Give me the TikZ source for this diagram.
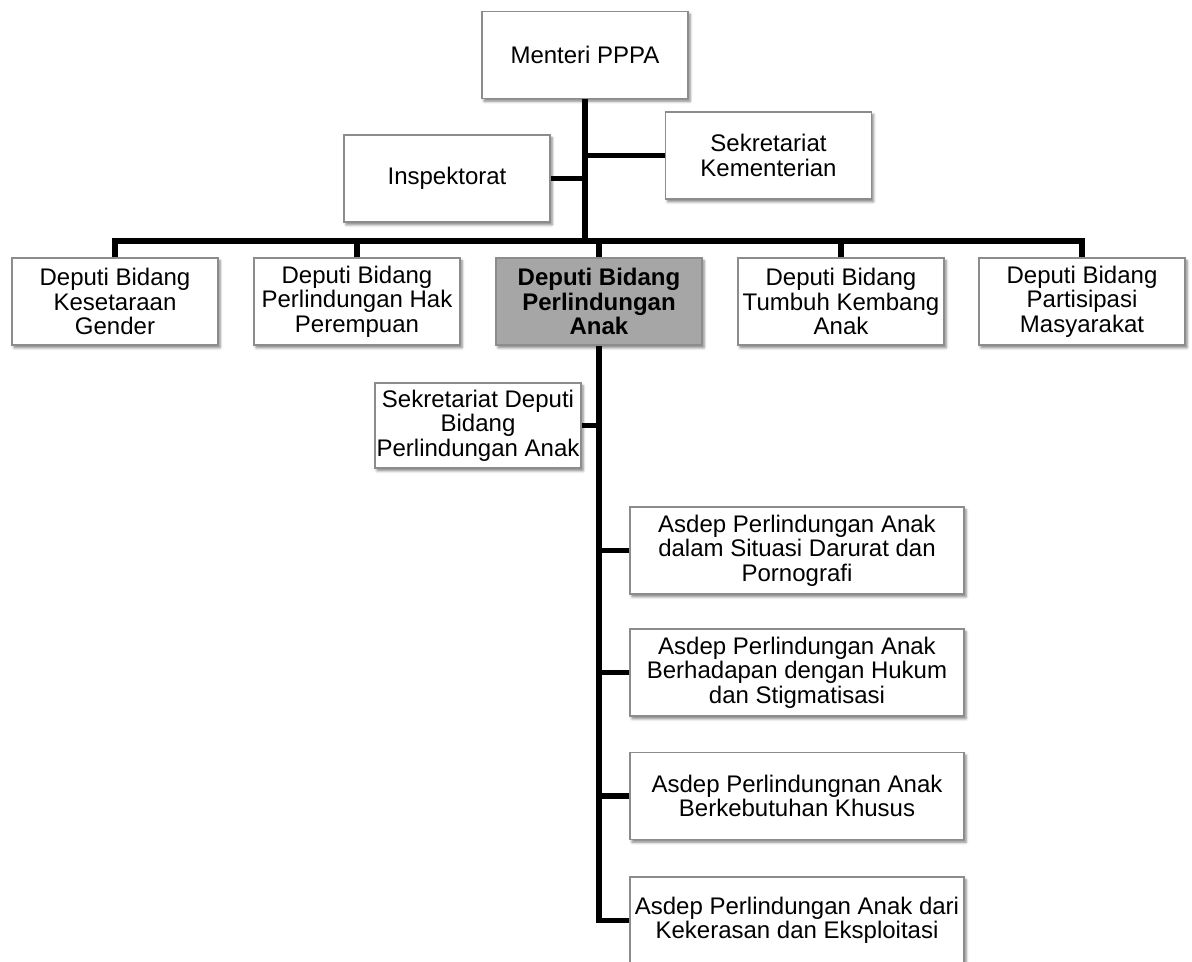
\documentclass[tikz,border=0pt]{standalone}
\usepackage{fontspec}
\setmainfont{Liberation Sans}
\usepackage{tikz}
\usetikzlibrary{shadows,shadows.blur,calc}

\begin{document}
\begin{tikzpicture}[x=0.75pt,y=-0.75pt,
        box/.style={draw=black!45,line width=0.8pt,fill=white,align=center,inner sep=0pt,
            minimum width=206*0.75pt,minimum height=87*0.75pt,
            font=\fontsize{18}{18.3}\selectfont,
            blur shadow={shadow xshift=1.5pt,shadow yshift=-2pt,shadow blur radius=2pt,shadow opacity=50}},
        wide/.style={box,minimum width=334*0.75pt},
        focus/.style={box,fill=black!35,font=\fontsize{18}{18.3}\selectfont\bfseries},
        link/.style={line width=3.8pt,line join=miter}]
            \useasboundingbox (0,0) rectangle (1192,962);

            \node[box] (menteri) at (585,55) {Menteri PPPA};
            \node[box] (inspektorat) at (447,178.5) {Inspektorat};
            \node[box] (sekkem) at (768.5,155.5) {Sekretariat\\Kementerian};

            \node[box] (dep1) at (115,301.5) {Deputi Bidang\\Kesetaraan\\Gender};
            \node[box] (dep2) at (357,301.5) {Deputi Bidang\\Perlindungan Hak\\Perempuan};
            \node[focus] (dep3) at (599,301.5) {Deputi Bidang\\Perlindungan\\Anak};
            \node[box] (dep4) at (841,301.5) {Deputi Bidang\\Tumbuh Kembang\\Anak};
            \node[box] (dep5) at (1082,301.5) {Deputi Bidang\\Partisipasi\\Masyarakat};

            \node[box,minimum height=85*0.75pt] (sekdep) at (478,425.5) {Sekretariat Deputi\\Bidang\\Perlindungan Anak};

            \node[wide] (asdep1) at (797,550.5) {Asdep Perlindungan Anak\\dalam Situasi Darurat dan\\Pornografi};
            \node[wide] (asdep2) at (797,672.5) {Asdep Perlindungan Anak\\Berhadapan dengan Hukum\\dan Stigmatisasi};
            \node[wide] (asdep3) at (797,796) {Asdep Perlindungnan Anak\\Berkebutuhan Khusus};
            \node[wide] (asdep4) at (797,920.5) {Asdep Perlindungan Anak dari\\Kekerasan dan Eksploitasi};

            \coordinate (bar) at (0,241);

            \draw[link] (menteri.south) -- (menteri.south |- bar);
            \draw[link] (inspektorat.east) -- (inspektorat.east -| menteri.south);
            \draw[link] (sekkem.west) -- (sekkem.west -| menteri.south);
            \draw[link] (dep1.north) -- (dep1.north |- bar) -- (dep5.north |- bar) -- (dep5.north);
            \foreach \d in {dep2,dep3,dep4}
                \draw[link] (\d.north) -- (\d.north |- bar);

            \draw[link] (dep3.south) |- (asdep4.west);
            \draw[link] (sekdep.east) -- (sekdep.east -| dep3.south);
            \foreach \a in {asdep1,asdep2,asdep3}
                \draw[link] (\a.west) -- (\a.west -| dep3.south);
        \end{tikzpicture}
\end{document}
